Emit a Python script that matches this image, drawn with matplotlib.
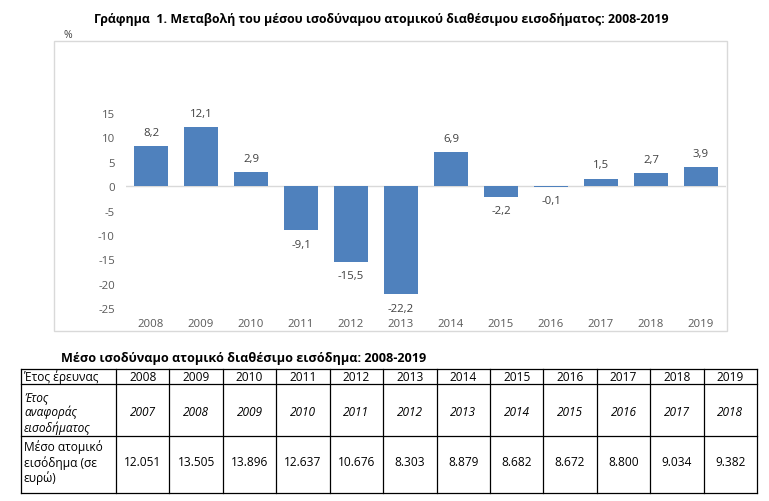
import matplotlib
matplotlib.use("Agg")
import matplotlib.pyplot as plt
from matplotlib.patches import Rectangle

plt.rcParams['font.family'] = ['Open Sans', 'DejaVu Sans']

# chart data
years = ["2008", "2009", "2010", "2011", "2012", "2013",
         "2014", "2015", "2016", "2017", "2018", "2019"]
change_pct = [8.2, 12.1, 2.9, -9.1, -15.5, -22.2, 6.9, -2.2, -0.1, 1.5, 2.7, 3.9]
yticks = [15, 10, 5, 0, -5, -10, -15, -20, -25]

# table data
income_years = ["2007", "2008", "2009", "2010", "2011", "2012",
                "2013", "2014", "2015", "2016", "2017", "2018"]
mean_income = ["12.051", "13.505", "13.896", "12.637", "10.676", "8.303",
               "8.879", "8.682", "8.672", "8.800", "9.034", "9.382"]
row_labels = ["Έτος έρευνας", "Έτος\nαναφοράς\nεισοδήματος", "Μέσο ατομικό\nεισόδημα (σε\nευρώ)"]

W, H = 769, 502
fig = plt.figure(figsize=(W / 100, H / 100), dpi=100)

# overlay in pixel coordinates for frame, titles and table
ov = fig.add_axes([0, 0, 1, 1])
ov.set_xlim(0, W)
ov.set_ylim(H, 0)
ov.axis('off')

ov.add_patch(Rectangle((54, 42), 673, 290, fill=False, edgecolor='#d9d9d9', lw=1))
ov.text(381, 20, "Γράφημα  1. Μεταβολή του μέσου ισοδύναμου ατομικού διαθέσιμου εισοδήματος: 2008-2019",
        ha='center', va='center', fontsize=8.9, fontweight='bold', color='black')
ov.text(64, 35, "%", ha='left', va='center', fontsize=7.5, color='#404040')

# bar chart
def px(x0, y0, x1, y1):
    return [x0 / W, 1 - y1 / H, (x1 - x0) / W, (y1 - y0) / H]

ax = fig.add_axes(px(126, 114, 726, 309))
ax.set_zorder(2)
ax.patch.set_alpha(0)
x = list(range(len(years)))
ax.bar(x, change_pct, width=0.68, color='#4f81bd', zorder=2)
ax.axhline(0, color='#d9d9d9', lw=1, zorder=1)
ax.set_xlim(-0.5, len(years) - 0.5)
ax.set_ylim(-25, 15)
ax.set_yticks(yticks)
ax.set_yticklabels([str(t) for t in yticks])
ax.set_xticks(x)
ax.set_xticklabels(years)
ax.tick_params(length=0, labelsize=8.2, colors='#595959', pad=8)
ax.tick_params(axis='x', pad=7)
for s in ax.spines.values():
    s.set_visible(False)

for xi, v in zip(x, change_pct):
    lbl = f"{v:.1f}".replace('.', ',')
    if v >= 0:
        ax.annotate(lbl, (xi, v), xytext=(0, 6), textcoords='offset points',
                    ha='center', va='bottom', fontsize=8.2, color='#404040', clip_on=False)
    else:
        ax.annotate(lbl, (xi, v), xytext=(0, -6), textcoords='offset points',
                    ha='center', va='top', fontsize=8.2, color='#404040', clip_on=False)

# table
ov.text(244, 359, "Μέσο ισοδύναμο ατομικό διαθέσιμο εισόδημα: 2008-2019",
        ha='center', va='center', fontsize=9.1, fontweight='bold', color='black')

col_x = [21, 116]
data_w = (757 - 116) / len(years)
for i in range(len(years)):
    col_x.append(116 + data_w * (i + 1))
row_y = [370, 385, 437, 494]

for cx in col_x:
    ov.plot([cx, cx], [row_y[0], row_y[-1]], color='black', lw=0.9)
for ry in row_y:
    ov.plot([col_x[0], col_x[-1]], [ry, ry], color='black', lw=0.9)

fs = 8.6
ov.text(24, (row_y[0] + row_y[1]) / 2, row_labels[0], ha='left', va='center',
        fontsize=fs, color='black')
ov.text(24, 413, row_labels[1], ha='left', va='center', fontsize=fs, style='italic',
        color='black', linespacing=1.15)
ov.text(24, 463, row_labels[2], ha='left', va='center', fontsize=fs,
        color='black', linespacing=1.15)

for i in range(len(years)):
    cx = (col_x[i + 1] + col_x[i + 2]) / 2
    ov.text(cx, (row_y[0] + row_y[1]) / 2, years[i], ha='center', va='center',
            fontsize=fs, color='black')
    ov.text(cx, 413, income_years[i], ha='center', va='center',
            fontsize=fs, style='italic', color='black')
    ov.text(cx, 463, mean_income[i], ha='center', va='center',
            fontsize=fs, color='black')

fig.savefig("out.png", dpi=100)
